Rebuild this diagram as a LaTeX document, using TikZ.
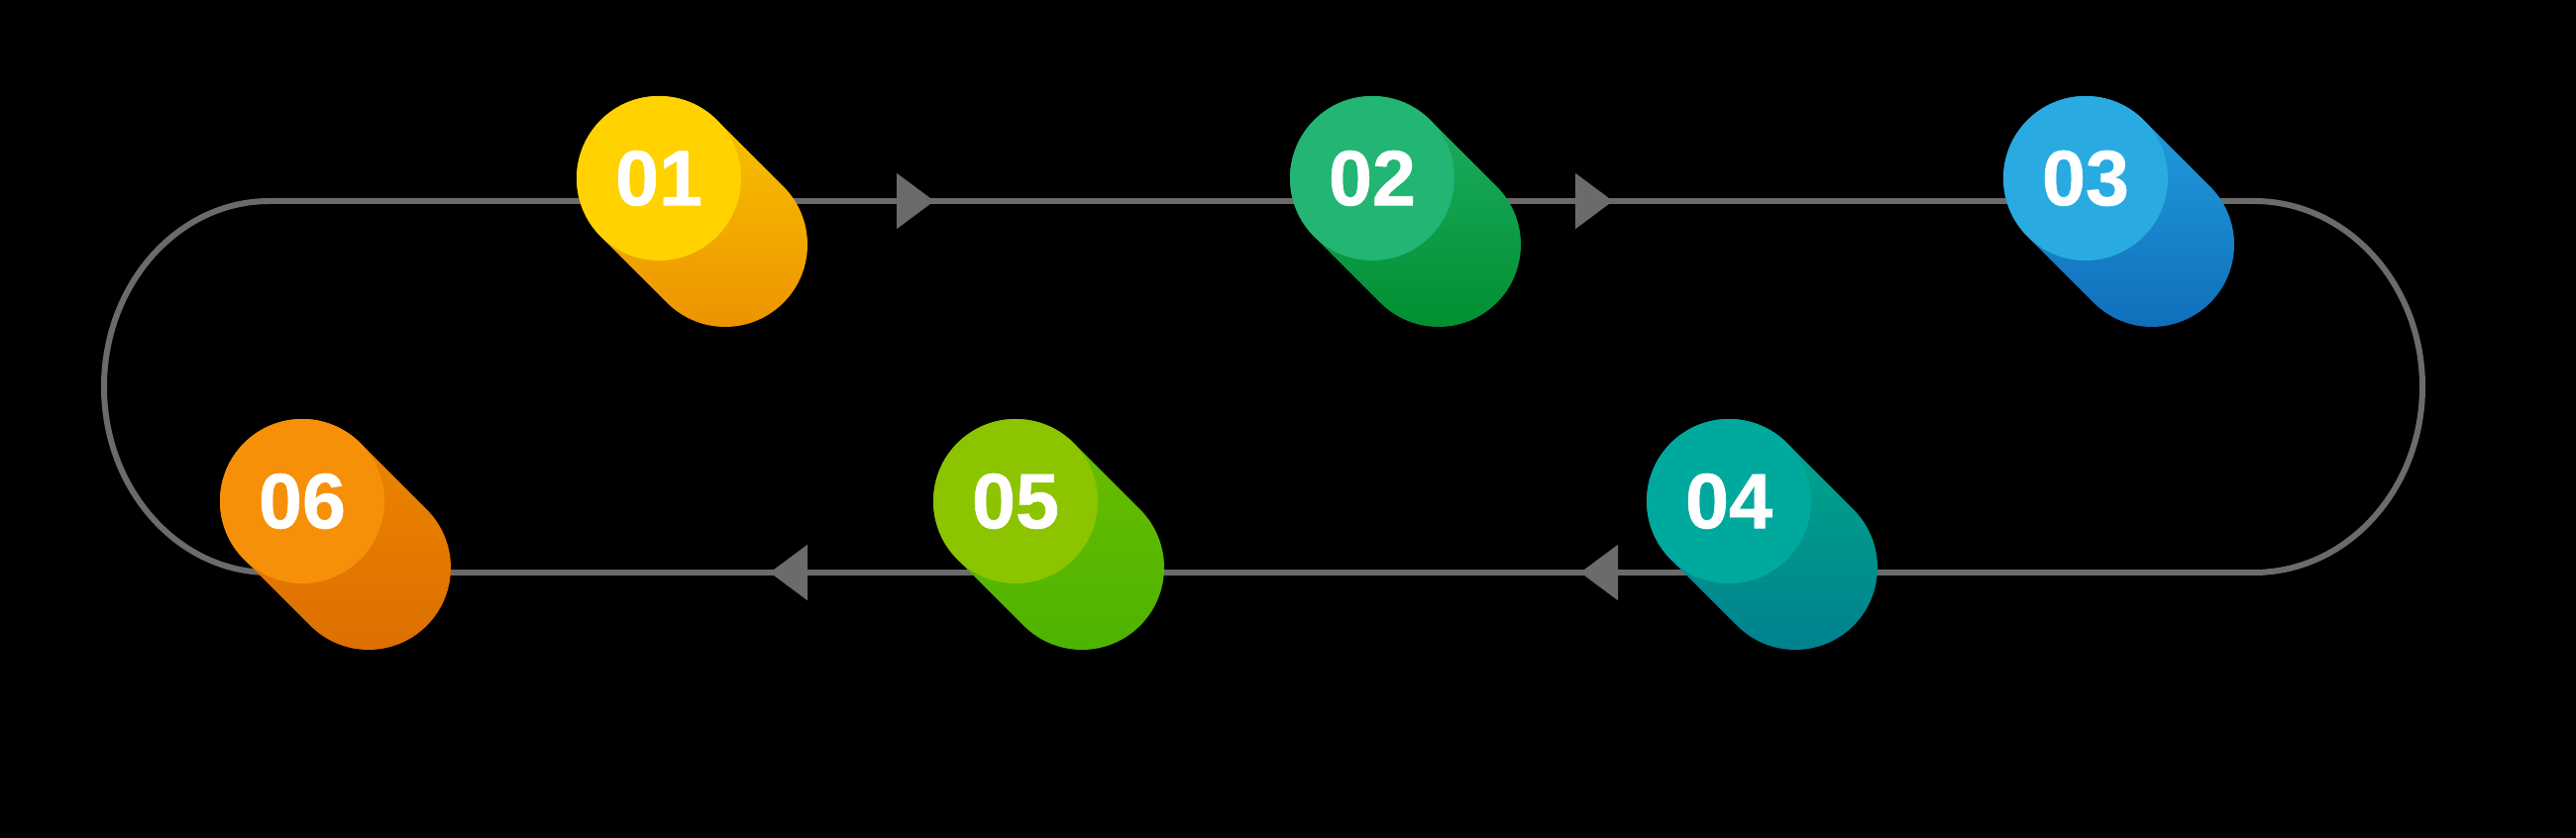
\documentclass[tikz,border=0pt]{standalone}
\usepackage{fontspec}
\setmainfont{Liberation Sans}
\newfontfamily\pillfont[FakeBold=0.8]{Liberation Sans Bold}
\usetikzlibrary{arrows.meta,decorations.markings,calc}

\pgfdeclarelayer{back}
\pgfdeclarelayer{track}
\pgfsetlayers{back,track,main}

\definecolor{trackgray}{HTML}{6B6B6B}
\definecolor{top01}{HTML}{FFD200}
\definecolor{upA01}{HTML}{F9C800}
\definecolor{upB01}{HTML}{EC9200}
\definecolor{top02}{HTML}{22B573}
\definecolor{upA02}{HTML}{20B068}
\definecolor{upB02}{HTML}{008E2E}
\definecolor{top03}{HTML}{29ABE2}
\definecolor{upA03}{HTML}{24A2E0}
\definecolor{upB03}{HTML}{0F6DBA}
\definecolor{top04}{HTML}{00A99D}
\definecolor{upA04}{HTML}{00A98A}
\definecolor{upB04}{HTML}{00808F}
\definecolor{top05}{HTML}{8CC400}
\definecolor{upA05}{HTML}{6CBE00}
\definecolor{upB05}{HTML}{4CB300}
\definecolor{top06}{HTML}{F79009}
\definecolor{upA06}{HTML}{EE8800}
\definecolor{upB06}{HTML}{DC6E00}

\tikzset{
  pill/.style={circle, minimum size=1.66cm, inner sep=0pt, text=white,
    font=\fontsize{22.5}{26}\pillfont},
  loopline/.style={draw=trackgray, line width=0.06cm},
  flowtip/.style={postaction={decorate}, decoration={markings,
    mark=at position #1 with {\arrow[trackgray]{Triangle[length=0.38cm,width=0.55cm]}}}}
}

\begin{document}
\begin{tikzpicture}

\begin{pgfonlayer}{back}
\fill[black] (0,0) rectangle (26,8.46);
\end{pgfonlayer}

\foreach \n/\x/\y in {01/6.65/6.66, 02/13.85/6.66, 03/21.05/6.66,
                      04/17.45/3.40, 05/10.25/3.40, 06/3.05/3.40}
{
\shade[top color=upA\n, bottom color=upB\n]
  ([shift={(45:0.83)}]\x,\y) arc[start angle=45, end angle=225, radius=0.83]
  -- ++(0.67,-0.67) arc[start angle=225, end angle=405, radius=0.83] -- cycle;
\node[pill, fill=top\n] (p\n) at (\x,\y) {\n};
}

\coordinate (tl) at (0,6.43);
\coordinate (bl) at (0,2.68);
\coordinate (rtop) at (22.75,6.43);
\coordinate (lbot) at (2.72,2.68);

\begin{pgfonlayer}{track}
\draw[loopline, flowtip=2.78cm] (p01 |- tl) -- (p02 |- tl);
\draw[loopline, flowtip=2.43cm] (p02 |- tl) -- (p03 |- tl);
\draw[loopline] (p03 |- tl) -- (rtop)
  arc[start angle=90, end angle=-90, x radius=1.7, y radius=1.875] -- (p04 |- bl);
\draw[loopline, flowtip=1.50cm] (p04 |- bl) -- (p05 |- bl);
\draw[loopline, flowtip=2.48cm] (p05 |- bl) -- (p06 |- bl);
\draw[loopline] (p06 |- bl) -- (lbot)
  arc[start angle=270, end angle=90, x radius=1.67, y radius=1.875] -- (p01 |- tl);
\end{pgfonlayer}

\end{tikzpicture}
\end{document}
